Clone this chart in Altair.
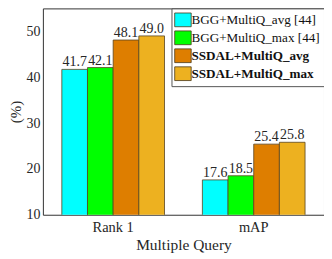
import altair as alt
import pandas as pd

groups = ["Rank 1", "mAP"]
series = ["BGG+MultiQ_avg [44]", "BGG+MultiQ_max [44]", "SSDAL+MultiQ_avg", "SSDAL+MultiQ_max"]
rank1_vals = [41.7, 42.1, 48.1, 49.0]
map_vals = [17.6, 18.5, 25.4, 25.8]
colors = ["#00FFFF", "#00FF00", "#DE7E00", "#EDB120"]

rows = []
for g, vals in zip(groups, [rank1_vals, map_vals]):
    for s, v in zip(series, vals):
        rows.append({"group": g, "series": s, "value": v, "label": f"{v:.1f}"})
df = pd.DataFrame(rows)

FONT = "Liberation Serif"

x = alt.X("group:N", sort=groups,
          scale=alt.Scale(paddingInner=0, paddingOuter=0),
          axis=alt.Axis(title="Multiple Query", labelAngle=0, ticks=False, domain=False,
                        labelFontSize=14.5, titleFontSize=15.5, labelPadding=6, titlePadding=3,
                        labelFont=FONT, titleFont=FONT, labelColor="#262626",
                        titleColor="#262626", titleFontWeight="normal"))
xo = alt.XOffset("series:N", sort=series,
                 scale=alt.Scale(paddingInner=0, paddingOuter=0.738))
y = alt.Y("value:Q",
          scale=alt.Scale(domain=[10, 55], nice=False),
          axis=alt.Axis(title="(%)", values=[10, 20, 30, 40, 50], ticks=False,
                        domain=False, grid=False, labelFontSize=14, titleFontSize=15,
                        labelFont=FONT, titleFont=FONT, labelColor="#262626",
                        titleColor="#262626", titleFontWeight="normal",
                        labelPadding=3, titlePadding=2))

bars = alt.Chart(df).mark_bar(stroke="#5a4520", strokeWidth=0.8, clip=True).encode(
    x=x, xOffset=xo, y=y,
    color=alt.Color("series:N", sort=series,
                    scale=alt.Scale(domain=series, range=colors),
                    legend=alt.Legend(
                        title=None, orient="top-right", offset=0,
                        symbolType="M-1.2,-1L1.2,-1L1.2,1L-1.2,1Z", symbolSize=190,
                        symbolStrokeColor="#4a3a1a", symbolStrokeWidth=0.8,
                        labelFont=FONT, labelColor="#111", labelFontSize=13.2,
                        labelFontWeight=alt.ExprRef(expr="indexof(datum.label, 'SSDAL') == 0 ? 'bold' : 'normal'"),
                        labelOffset=1, rowPadding=1,
                        strokeColor="#555", fillColor="white", padding=4,
                        labelLimit=300)),
)

labels = alt.Chart(df).mark_text(dy=-7, fontSize=14, font=FONT, color="#262626").encode(
    x=alt.X("group:N", sort=groups), xOffset=alt.XOffset("series:N", sort=series),
    y=alt.Y("value:Q"), text="label:N",
)

chart = alt.layer(bars, labels).properties(
    width=282, height=207,
    autosize=alt.AutoSizeParams(type="none"),
    padding={"left": 35, "top": 0, "right": 0, "bottom": 44},
).configure_view(stroke="#333", strokeWidth=1)

chart.save("out.html", embed_options={"renderer": "svg", "actions": False})
